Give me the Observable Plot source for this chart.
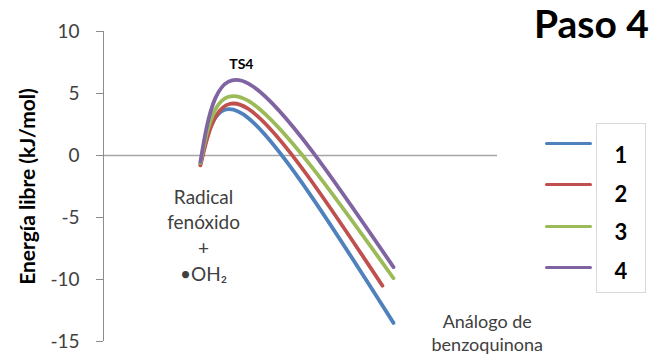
<!DOCTYPE html>
<html>
<head>
<meta charset="utf-8">
<script src="https://cdn.jsdelivr.net/npm/d3@7"></script>
<script src="https://cdn.jsdelivr.net/npm/@observablehq/plot@0.6"></script>
<style>
  html, body { margin: 0; padding: 0; background: #fff; }
  #wrap { position: relative; width: 651px; height: 354px; font-family: Lato, "Open Sans", sans-serif; }
  #title { position: absolute; left: 534px; top: 4px; font-size: 39px; line-height: 39px; font-weight: 700; color: #000; white-space: nowrap; }
  #legend-box { position: absolute; left: 596px; top: 123px; width: 50px; height: 170px; border: 1px solid #d9d9d9; box-sizing: border-box; }
  .swatch { position: absolute; left: 545px; width: 47px; height: 3px; border-radius: 2px; }
  .key { position: absolute; left: 596px; width: 50px; text-align: center; font-size: 22px; font-weight: 700; color: #000; line-height: 22px; }
</style>
</head>
<body>
<div id="wrap"></div>
<script>
// Reaction step 4: free-energy profile for the four systems
const series = ["1", "2", "3", "4"];
const colors = ["#4F81BD", "#C0504D", "#9BBB59", "#8064A2"];

// reaction coordinate of the three stationary points
const coordStart = 1.23;
const coordTS = 1.84;
const coordEnd = [3.68, 3.54, 3.68, 3.68];

// free energies (kJ/mol)
const energyStart = [-0.7, -0.8, -0.6, -0.5];
const energyTS = [3.0, 3.75, 4.4, 5.8];
const energyEnd = [-13.5, -10.5, -9.9, -9.0];

const yTicks = [-15, -10, -5, 0, 5, 10];
const stateLabels = ["Radical\nfenóxido\n+\n•OH₂", "TS4", "Análogo de\nbenzoquinona"];

const rows = series.flatMap((s, i) => [
  {series: s, x: coordStart, y: energyStart[i]},
  {series: s, x: coordTS, y: energyTS[i]},
  {series: s, x: coordEnd[i], y: energyEnd[i]}
]);

const chart = Plot.plot({
  width: 651,
  height: 354,
  marginLeft: 103,
  marginRight: 154,
  marginTop: 31,
  marginBottom: 13,
  style: {fontFamily: "Lato, 'Open Sans', sans-serif", background: "#fff"},
  x: {domain: [0, 5], axis: null},
  y: {domain: [-15, 10]},
  color: {domain: series, range: colors},
  marks: [
    Plot.ruleY([0], {x1: 0, x2: 5, stroke: "#a6a6a6", strokeWidth: 1.3}),
    Plot.ruleX([0], {y1: -15, y2: 10, stroke: "#8c8c8c", strokeWidth: 1}),
    Plot.axisY({ticks: yTicks, tickSize: 7, tickPadding: 17, fontSize: 19, stroke: "#8c8c8c", fill: "#404040", label: null, tickFormat: d => String(d)}),
    Plot.text(["Energía libre (kJ/mol)"], {frameAnchor: "left", textAnchor: "middle", rotate: -90, dx: -75, fontSize: 21, fontWeight: "bold", fill: "#000"}),
    Plot.line(rows, {x: "x", y: "y", z: "series", stroke: "series", strokeWidth: 3.8, curve: "natural", strokeLinecap: "round"}),
    Plot.text([stateLabels[0]], {x: 1.27, y: -6.33, fontSize: 19, lineHeight: 1.35, fill: "#404040"}),
    Plot.text([stateLabels[1]], {x: 1.75, y: 7.34, fontSize: 14, fontWeight: "bold", fill: "#000"}),
    Plot.text([stateLabels[2]], {x: 4.87, y: -14.25, fontSize: 18, lineHeight: 1.3, fill: "#404040"})
  ]
});

const wrap = document.getElementById("wrap");
wrap.appendChild(chart);

const title = document.createElement("div");
title.id = "title";
title.textContent = "Paso 4";
wrap.appendChild(title);

const box = document.createElement("div");
box.id = "legend-box";
wrap.appendChild(box);

series.forEach((s, i) => {
  const sw = document.createElement("div");
  sw.className = "swatch";
  sw.style.top = (142 + i * 41.3) + "px";
  sw.style.background = colors[i];
  wrap.appendChild(sw);
  const k = document.createElement("div");
  k.className = "key";
  k.style.top = (144 + i * 38.7) + "px";
  k.textContent = s;
  wrap.appendChild(k);
});
</script>
</body>
</html>
